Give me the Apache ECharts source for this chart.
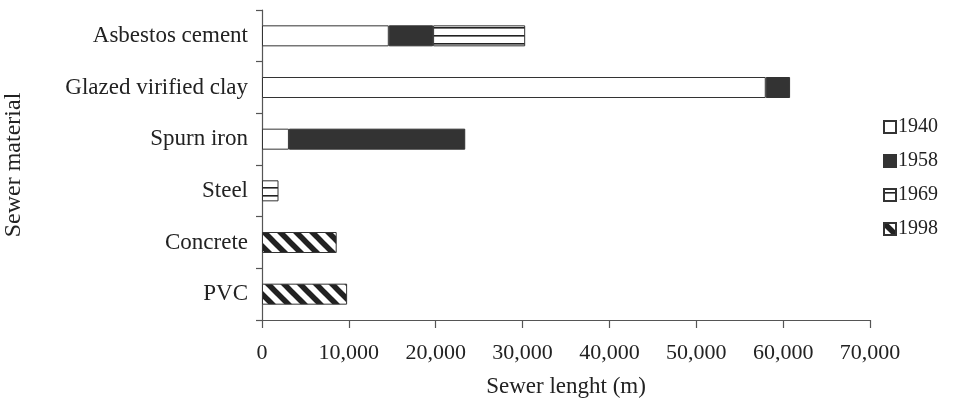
<!DOCTYPE html>
<html>
<head>
<meta charset="utf-8">
<script src="https://cdn.jsdelivr.net/npm/echarts@6/dist/echarts.min.js"></script>
<style>html,body{margin:0;padding:0;background:#fff;}#c{width:958px;height:410px;}</style>
</head>
<body>
<div id="c"></div>
<script>
const categories = ['Asbestos cement', 'Glazed virified clay', 'Spurn iron', 'Steel', 'Concrete', 'PVC'];
const years = ['1940', '1958', '1969', '1998'];
const v1940 = [14600, 58000, 3100, null, null, null];
const v1958 = [5100, 2800, 20300, null, null, null];
const v1969 = [10600, null, null, 1900, null, null];
const v1998 = [null, null, null, null, 8600, 9800];
const xTicks = [0, 10000, 20000, 30000, 40000, 50000, 60000, 70000];

function hLines() {
  const c = document.createElement('canvas');
  c.width = 8; c.height = 8;
  const g = c.getContext('2d');
  g.fillStyle = '#fff'; g.fillRect(0, 0, 8, 8);
  g.fillStyle = '#222'; g.fillRect(0, 3, 8, 1.6);
  return c;
}
function diag() {
  const s = 16;
  const c = document.createElement('canvas');
  c.width = s; c.height = s;
  const g = c.getContext('2d');
  g.fillStyle = '#fff'; g.fillRect(0, 0, s, s);
  g.strokeStyle = '#222'; g.lineWidth = 5.5;
  for (const k of [-s, 0, s]) {
    g.beginPath(); g.moveTo(k - 4, -4); g.lineTo(k + s + 4, s + 4); g.stroke();
  }
  return c;
}

const font = 'Liberation Serif';
const border = { borderColor: '#333', borderWidth: 1 };
const fills = [
  '#ffffff',
  '#333333',
  { image: hLines(), repeat: 'repeat' },
  { image: diag(), repeat: 'repeat' }
];
const dataSets = [v1940, v1958, v1969, v1998];

const chart = echarts.init(document.getElementById('c'), null, { renderer: 'canvas' });
chart.setOption({
  animation: false,
  textStyle: { fontFamily: font },
  grid: { left: 262, right: 88, top: 10, bottom: 90, containLabel: false, outerBoundsMode: 'none' },
  legend: {
    orient: 'vertical',
    left: 878,
    top: 112,
    itemWidth: 12,
    itemHeight: 12,
    itemGap: 14,
    icon: 'rect',
    data: years,
    textStyle: { fontFamily: font, fontSize: 20, color: '#222', padding: [0, 0, 0, -3] }
  },
  xAxis: {
    type: 'value',
    min: 0,
    max: 70000,
    interval: 10000,
    name: 'Sewer lenght (m)',
    nameLocation: 'middle',
    nameGap: 55,
    nameTextStyle: { fontFamily: font, fontSize: 23, color: '#222' },
    axisLine: { show: true, lineStyle: { color: '#555', width: 1.2 } },
    axisTick: { show: true, length: 8, lineStyle: { color: '#555', width: 1.2 } },
    splitLine: { show: false },
    axisLabel: {
      fontFamily: font, fontSize: 22, color: '#222', margin: 22,
      formatter: v => xTicks.includes(v) ? v.toLocaleString('en-US') : ''
    }
  },
  yAxis: {
    type: 'category',
    data: categories,
    inverse: true,
    name: 'Sewer material',
    nameLocation: 'middle',
    nameGap: 236,
    nameRotate: 90,
    nameTextStyle: { fontFamily: font, fontSize: 24, color: '#222' },
    axisLine: { show: true, lineStyle: { color: '#555', width: 1.2 } },
    axisTick: { show: true, length: 6, lineStyle: { color: '#555', width: 1.2 } },
    axisLabel: { fontFamily: font, fontSize: 23, color: '#222', margin: 14 }
  },
  series: years.map((y, i) => ({
    name: y,
    type: 'bar',
    stack: 'total',
    barWidth: 21,
    data: dataSets[i],
    itemStyle: Object.assign({ color: fills[i] }, border)
  }))
});
</script>
</body>
</html>
